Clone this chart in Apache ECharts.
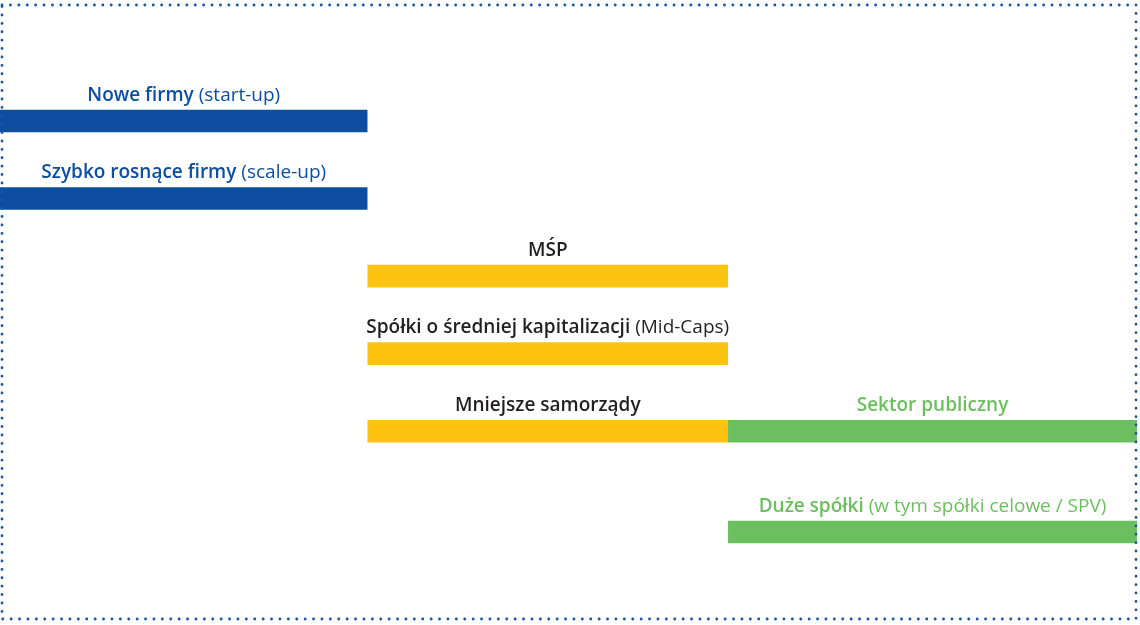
<!DOCTYPE html>
<html>
<head>
<meta charset="utf-8">
<script src="https://cdn.jsdelivr.net/npm/echarts@6/dist/echarts.min.js"></script>
<style>html,body{margin:0;padding:0;background:#fff}#c{width:1140px;height:625px}</style>
</head>
<body>
<div id="c"></div>
<script>
const boldLabels = ['Nowe firmy', 'Szybko rosnące firmy', 'MŚP', 'Spółki o średniej kapitalizacji', 'Mniejsze samorządy', 'Sektor publiczny', 'Duże spółki'];
const normalLabels = ['(start-up)', '(scale-up)', '', '(Mid-Caps)', '', '', '(w tym spółki celowe / SPV)'];
const startValues = [0, 0, 32.32, 32.32, 32.32, 64.03, 64.03];
const endValues = [32.32, 32.32, 64.03, 64.03, 64.03, 100, 100];
const rowValues = [1, 2, 3, 4, 5, 5, 6.3];
const groupIndex = [0, 0, 1, 1, 1, 2, 2];

const barColors = ['#0d4ea0', '#fdc311', '#6cbf5e'];
const textColors = ['#0d4ea0', '#231f20', '#6cbf5e'];

const data = boldLabels.map((b, i) => [startValues[i], endValues[i], rowValues[i], i]);

const chart = echarts.init(document.getElementById('c'), null, {renderer: 'canvas'});
const FONT = 'Open Sans';
chart.setOption({
  animation: false,
  grid: {left: 0, top: 43.45, width: 1137, height: 542.85},
  xAxis: {type: 'value', min: 0, max: 100, show: false},
  yAxis: {type: 'value', min: 0, max: 7, inverse: true, show: false},
  graphic: [{
    type: 'rect',
    shape: {x: 2, y: 5, width: 1134, height: 614},
    style: {fill: 'none', stroke: '#1a56a8', lineWidth: 2.8, lineDash: [0.1, 8.3], lineCap: 'round'},
    z: 10
  }],
  series: [{
    type: 'custom',
    data: data,
    encode: {x: [0, 1], y: 2},
    renderItem: function (params, api) {
      const i = api.value(3);
      const p0 = api.coord([api.value(0), api.value(2)]);
      const p1 = api.coord([api.value(1), api.value(2)]);
      const h = 22.6;
      const g = groupIndex[i];
      const cx = (p0[0] + p1[0]) / 2;
      const top = p0[1] - h / 2;
      const txt = '{b|' + boldLabels[i] + '}' + (normalLabels[i] ? '{n| ' + normalLabels[i] + '}' : '');
      return {
        type: 'group',
        children: [
          {type: 'rect', shape: {x: p0[0], y: top, width: p1[0] - p0[0], height: h}, style: {fill: barColors[g]}},
          {type: 'text', x: cx, y: top - 14.5, style: {
            text: txt, align: 'center', verticalAlign: 'middle',
            rich: {
              b: {fontFamily: FONT, fontWeight: 600, fontSize: 19, fill: textColors[g]},
              n: {fontFamily: FONT, fontWeight: 'normal', fontSize: 19, fill: textColors[g]}
            }
          }}
        ]
      };
    }
  }]
});
</script>
</body>
</html>
